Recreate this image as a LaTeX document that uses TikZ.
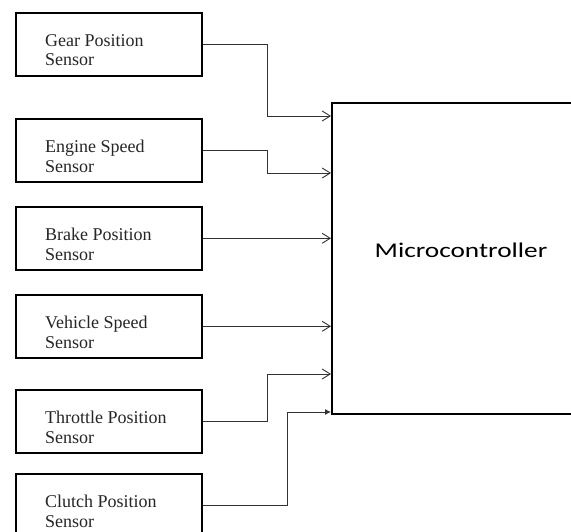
\documentclass[tikz,border=0pt]{standalone}
\usepackage{fontspec}
\setmainfont{Liberation Serif}
\newfontfamily\mcufont{Carlito}
\usetikzlibrary{arrows.meta}

\tikzset{
  sensorbox/.style={draw=black,line width=1.6pt,minimum width=186,minimum height=63,anchor=north west,inner sep=0pt},
  sensortext/.style={anchor=west,align=left,inner sep=0pt,text=black!85,font=\fontsize{18}{19.5}\selectfont},
  sig/.style={draw=black!80,line width=0.9pt,-{Straight Barb[length=8pt,width=10pt,line width=0.9pt]}},
  sigfill/.style={draw=black!80,line width=0.9pt,-{Latex[length=6pt,width=6pt]}}
}

\begin{document}
\begin{tikzpicture}[x=1pt,y=-1pt]
\useasboundingbox (0,0) rectangle (571,532);
\clip (0,0) rectangle (571,532);
\fill[white] (0,0) rectangle (571,532);
% sensors on the left
\foreach \n/\top/\lab in {gear/12/Gear Position,engine/118/Engine Speed,brake/206/Brake Position,vehicle/294/Vehicle Speed,throttle/389/Throttle Position,clutch/473/Clutch Position} {
  \node[sensorbox] (\n) at (15,\top) {};
  \node[sensortext] (\n-t) at ([xshift=30,yshift=-6]\n.west) {\lab\\Sensor};
}
% microcontroller, right side runs off the page
\node[draw=black,line width=1.6pt,anchor=north west,minimum width=300,minimum height=311,inner sep=0pt] (mcu) at (331,102) {};
\node[font=\mcufont\fontsize{21}{24}\selectfont] (mcu-t) at (461,250) {\scalebox{1.3}[1]{Microcontroller}};
\foreach \i/\y in {1/116,2/173,5/374,6/412}
  \coordinate (in\i) at (mcu.west |- 0,\y);
\coordinate (in3) at (mcu.west |- brake.east);
\coordinate (in4) at (mcu.west |- vehicle.east);
% connectors
\draw[sig] (gear.east) -- ++(65,0) |- (in1);
\draw[sig] (engine.east) -- ++(65,0) |- (in2);
\draw[sig] (brake.east) -- (in3);
\draw[sig] (vehicle.east) -- (in4);
\draw[sig] (throttle.east) -- ++(65,0) |- (in5);
\draw[sigfill] (clutch.east) -- ++(85,0) |- (in6);
\end{tikzpicture}
\end{document}
